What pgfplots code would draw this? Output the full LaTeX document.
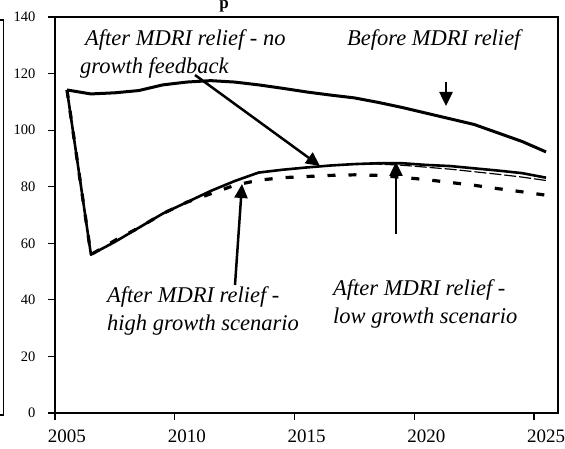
\documentclass[border=0pt]{standalone}
\usepackage{fontspec}
\setmainfont{Liberation Serif}
\usepackage{pgfplots}
\pgfplotsset{compat=1.18}
\usetikzlibrary{arrows.meta}

\pgfplotstableread{
x before nogrowth high low
2005.5 114.2 114.2 114.2 114.2
2006.5 112.8 56.0 56.0 56.0
2007.5 113.2 60.5 61.0 60.5
2008.5 114.0 65.5 65.5 65.5
2009.5 116.0 70.5 70.5 70.5
2010.5 117.0 74.5 74.5 74.5
2011.5 117.5 78.5 77.5 78.5
2012.5 117.0 82.0 80.5 82.0
2013.5 116.0 85.0 82.3 85.0
2014.5 114.8 86.0 83.2 86.0
2015.5 113.5 86.8 83.6 86.8
2016.5 112.4 87.5 84.0 87.5
2017.5 111.4 88.0 84.2 88.0
2018.5 109.8 88.3 84.0 88.0
2019.5 108.0 88.3 83.3 87.6
2020.5 106.0 87.7 82.5 86.9
2021.5 104.0 87.3 81.5 86.2
2022.5 102.0 86.5 80.5 85.3
2023.5 99.0 85.7 79.3 84.4
2024.5 96.0 84.8 78.2 83.4
2025.5 92.3 83.2 77.0 82.2
}\datatable

\begin{document}
\begin{tikzpicture}[x=1pt,y=1pt]
\useasboundingbox (0,0) rectangle (565,448);
\begin{axis}[
  at={(55pt,35pt)}, anchor=south west,
  width=503pt, height=396pt, scale only axis,
  xmin=2005, xmax=2026, ymin=0, ymax=140,
  xtick={2005,2010,2015,2020,2025},
  xticklabels={2005,2010,2015,2020,2025},
  ytick={0,20,40,60,80,100,120,140},
  yticklabels={0,20,40,60,80,100,120,140},
  tick pos=left, tick align=outside, major tick length=7pt,
  axis line style={line width=1.6pt},
  every tick/.style={black, line width=1.2pt},
  xticklabel style={font=\fontsize{19}{22}\selectfont, xshift=12pt, anchor=base, yshift=-22pt},
  yticklabel style={font=\fontsize{14.5}{17}\selectfont, xshift=-9pt},
  clip=false,
]
\addplot[black, line width=3pt, line join=round] table[x=x, y=before] {\datatable};
\addplot[black, line width=1.2pt, dash pattern=on 12pt off 3pt] table[x=x, y=low] {\datatable};
\addplot[black, line width=3.2pt, dash pattern=on 8pt off 13pt] table[x=x, y=high] {\datatable};
\addplot[black, line width=2.6pt, line join=round] table[x=x, y=nogrowth] {\datatable};
\end{axis}
% cropped neighbouring frame on the left
\draw[line width=1.5pt] (0,428) -- (3.3,428) -- (3.3,33) -- (0,33);
% cropped title
\node[anchor=base, inner sep=0, font=\bfseries\fontsize{17}{20}\selectfont] at (224,439) {p};
% annotations
\begin{scope}[every node/.style={anchor=base west, inner sep=0, font=\itshape\fontsize{22.5}{27}\selectfont}]
\node at (85,402) {After MDRI relief - no};
\node at (80,374) {growth feedback};
\node at (347,402) {Before MDRI relief};
\node at (107,146) {After MDRI relief -};
\node at (107,118) {high growth scenario};
\node at (333,153) {After MDRI relief -};
\node at (333,125) {low growth scenario};
\end{scope}
\begin{scope}[line width=2.5pt, -{Triangle[length=14pt,width=13pt]}]
\draw (195,373) -- (320,282);
\draw (446,366) -- (446,342);
\draw (396,214) -- (396,286);
\draw (235,163) -- (242,264);
\end{scope}
\end{tikzpicture}
\end{document}
